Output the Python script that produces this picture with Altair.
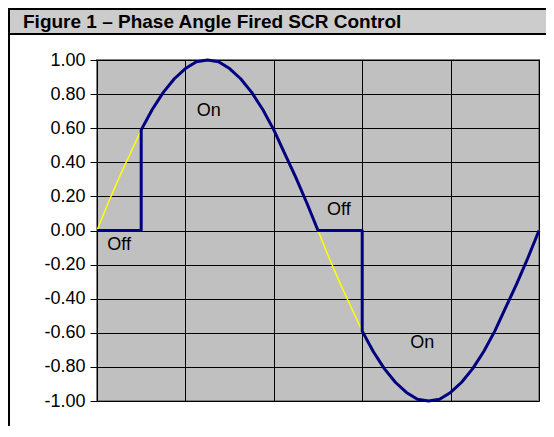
import altair as alt
import pandas as pd

# Supply voltage (sine), sampled every 9 degrees
angle = [0, 9, 18, 27, 36, 45, 54, 63, 72, 81, 90, 99, 108, 117, 126, 135, 144, 153, 162, 171,
         180, 189, 198, 207, 216, 225, 234, 243, 252, 261, 270, 279, 288, 297, 306, 315, 324,
         333, 342, 351, 360]
supply = [0.00, 0.16, 0.31, 0.45, 0.59, 0.71, 0.81, 0.89, 0.95, 0.99, 1.00, 0.99, 0.95, 0.89,
          0.81, 0.71, 0.59, 0.45, 0.31, 0.16, 0.00, -0.16, -0.31, -0.45, -0.59, -0.71, -0.81,
          -0.89, -0.95, -0.99, -1.00, -0.99, -0.95, -0.89, -0.81, -0.71, -0.59, -0.45, -0.31,
          -0.16, 0.00]

# SCR output (phase angle fired at 36 degrees)
out_angle = [0, 36, 36, 45, 54, 63, 72, 81, 90, 99, 108, 117, 126, 135, 144, 153, 162, 171, 180,
             216, 216, 225, 234, 243, 252, 261, 270, 279, 288, 297, 306, 315, 324, 333, 342, 351, 360]
out_value = [0.00, 0.00, 0.59, 0.71, 0.81, 0.89, 0.95, 0.99, 1.00, 0.99, 0.95, 0.89, 0.81, 0.71,
             0.59, 0.45, 0.31, 0.16, 0.00, 0.00, -0.59, -0.71, -0.81, -0.89, -0.95, -0.99, -1.00,
             -0.99, -0.95, -0.89, -0.81, -0.71, -0.59, -0.45, -0.31, -0.16, 0.00]

label_text = ["On", "Off", "Off", "On"]
label_angle = [91, 18, 197, 265]
label_value = [0.70, -0.085, 0.12, -0.66]

y_ticks = [-1.0, -0.8, -0.6, -0.4, -0.2, 0.0, 0.2, 0.4, 0.6, 0.8, 1.0]
x_grid = [0, 72, 144, 216, 288, 360]

title_text = "Figure 1 \u2013 Phase Angle Fired SCR Control"

FONT = "Liberation Sans"

supply_df = pd.DataFrame({"angle": angle, "value": supply, "i": range(len(angle))})
out_df = pd.DataFrame({"angle": out_angle, "value": out_value, "i": range(len(out_angle))})
lab_df = pd.DataFrame({"angle": label_angle, "value": label_value, "text": label_text})

x_enc = alt.X("angle:Q",
              scale=alt.Scale(domain=[0, 360], nice=False, zero=False),
              axis=alt.Axis(values=x_grid, labels=False, ticks=False, domain=False,
                            grid=True, gridColor="#000000", gridWidth=1, gridOpacity=1,
                            title=None))
y_enc = alt.Y("value:Q",
              scale=alt.Scale(domain=[-1, 1], nice=False, zero=False),
              axis=alt.Axis(values=y_ticks, format=".2f",
                            labelExpr="replace(datum.label, '\u2212', '-')",
                            grid=True, gridColor="#000000",
                            gridWidth=1, gridOpacity=1, ticks=True, tickSize=7,
                            tickColor="#000000", tickWidth=1, domain=False,
                            labelFont=FONT, labelFontSize=18, labelColor="#000000",
                            labelPadding=5, title=None))

yellow = alt.Chart(supply_df).mark_line(color="#FFFF00", strokeWidth=1.5).encode(
    x=x_enc, y=y_enc, order="i:Q")
blue = alt.Chart(out_df).mark_line(color="#000080", strokeWidth=3, strokeJoin="round").encode(
    x=x_enc, y=y_enc, order="i:Q")
labels = alt.Chart(lab_df).mark_text(font=FONT, fontSize=18, color="#000000",
                                     align="center", baseline="middle").encode(
    x=x_enc, y=y_enc, text="text:N")

one = alt.Data(values=[{}])
title_bar = alt.Chart(one).mark_rect(color="#CCCCCC").encode(
    x=alt.value(-89), x2=alt.value(449), y=alt.value(-52), y2=alt.value(-26))
top_line = alt.Chart(one).mark_rect(color="#000000").encode(
    x=alt.value(-89), x2=alt.value(449), y=alt.value(-52), y2=alt.value(-50))
sep_line = alt.Chart(one).mark_rect(color="#000000").encode(
    x=alt.value(-89), x2=alt.value(449), y=alt.value(-27), y2=alt.value(-25))
left_line = alt.Chart(one).mark_rect(color="#000000").encode(
    x=alt.value(-89), x2=alt.value(-87), y=alt.value(-52), y2=alt.value(366))
title_mark = alt.Chart(one).mark_text(font=FONT, fontSize=19, fontWeight="bold",
                                      color="#000000", align="left",
                                      baseline="alphabetic").encode(
    x=alt.value(-74), y=alt.value(-32), text=alt.value(title_text))

chart = alt.layer(yellow, blue, labels, title_bar, top_line, sep_line, left_line,
                  title_mark).properties(
    width=442, height=341,
    autosize=alt.AutoSizeParams(type="none"),
    padding={"left": 89, "top": 52, "right": 7, "bottom": 25},
    background="#FFFFFF",
).configure_view(
    fill="#C0C0C0", stroke="#808080", strokeWidth=2
)

chart.save("out.html", embed_options={"renderer": "svg", "actions": False})
